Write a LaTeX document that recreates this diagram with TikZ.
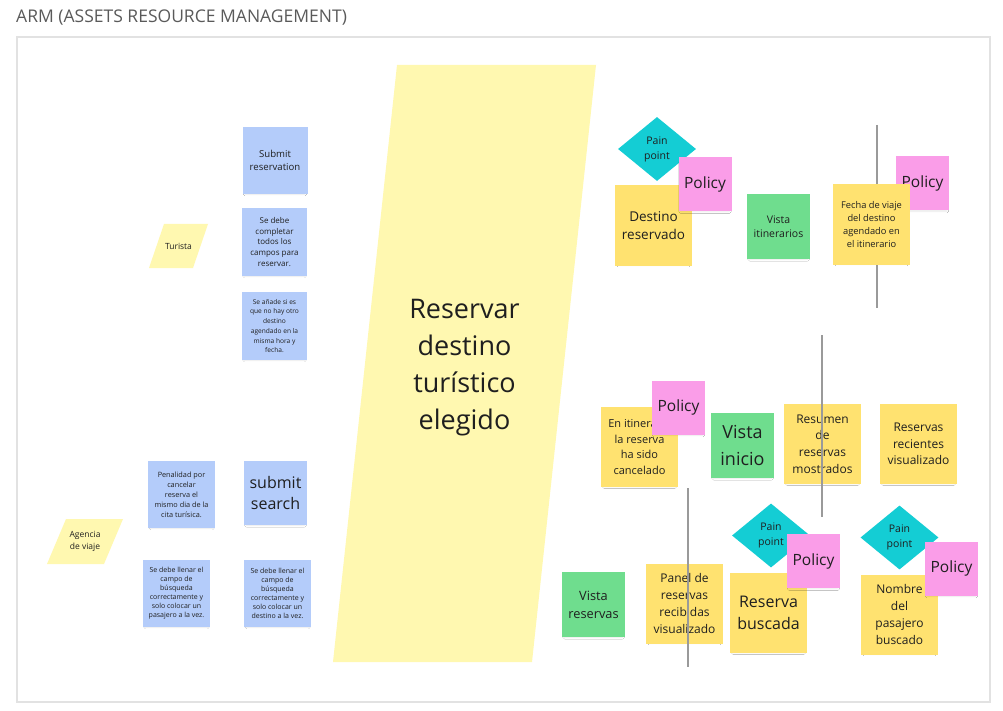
\documentclass[tikz,border=0pt]{standalone}
\usepackage{fontspec}
\setmainfont{Open Sans}
\usetikzlibrary{shapes.geometric,shadows.blur}
\definecolor{stickyblue}{HTML}{B4CCFA}
\definecolor{stickyyellow}{HTML}{FFE270}
\definecolor{paleyellow}{HTML}{FFF8B0}
\definecolor{stickygreen}{HTML}{6FDD8E}
\definecolor{stickypink}{HTML}{FA9DE8}
\definecolor{paincyan}{HTML}{14CDD4}
\definecolor{inkdark}{HTML}{1F1F1F}
\definecolor{framegray}{HTML}{E2E2E2}
\definecolor{titlegray}{HTML}{5A5A5A}
\definecolor{lanegray}{HTML}{9A9A9A}
\newcommand{\fsz}[2]{\fontsize{#1}{#2}\selectfont}
\tikzset{
  sticky/.style={rectangle, inner sep=0pt, align=center, text=inkdark,
    blur shadow={shadow xshift=0pt, shadow yshift=-3pt, shadow scale=0.92, shadow blur radius=2pt, shadow opacity=9}},
  bluenote/.style={sticky, fill=stickyblue, minimum width=65, minimum height=67},
  yellownote/.style={sticky, fill=stickyyellow, minimum width=77, minimum height=80},
  greennote/.style={sticky, fill=stickygreen, minimum width=63, minimum height=65},
  policynote/.style={sticky, fill=stickypink, minimum width=53, minimum height=54, font=\fsz{15.5}{19}},
  painpt/.style={diamond, fill=paincyan, inner sep=0pt, minimum width=78, minimum height=64,
    align=center, text=inkdark, font=\fsz{10.5}{15}},
  slabtext/.style={align=center, inner sep=0pt, text=inkdark},
  lane/.style={lanegray, line width=1.1}
}
\newcommand{\slab}[8]{
  \fill[paleyellow] (#2+#6,#3)--++(#4,0)--(#2+#4,#3+#5)--(#2,#3+#5)--cycle;
  \node[slabtext, #7] (#1) at (#2+#4/2+#6/2,#3+#5/2) {#8};
}

\begin{document}
\begin{tikzpicture}[x=1pt, y=-1pt]
    \useasboundingbox (0,0) rectangle (1003,711);
    \fill[white] (0,0) rectangle (1003,711);
    \node[anchor=west, inner sep=0pt, text=titlegray, font=\fsz{17.5}{20}] (title) at (16,18) {ARM (ASSETS RESOURCE MANAGEMENT)};
    \draw[framegray, line width=1.3, fill=white] (17,37) rectangle (990,702);

    \slab{turista}{149}{224}{44}{44}{15}{font=\fsz{8.5}{11}}{Turista}
    \slab{agencia}{47}{519}{57}{45}{19}{font=\fsz{8.5}{11.7}}{Agencia\\de viaje}
    \slab{evento}{333}{65}{199}{597}{64}{font=\fsz{27}{37}, yshift=-4}{Reservar\\destino\\turístico\\elegido}

    \node[bluenote, font=\fsz{9.6}{13.3}] (subres) at (275,160.5) {Submit\\reservation};
    \node[bluenote, minimum height=68, font=\fsz{8}{10.7}] (completar) at (274.5,242) {Se debe\\completar\\todos los\\campos para\\reservar.};
    \node[bluenote, minimum height=68, font=\fsz{6.6}{9.7}] (agendado) at (274.5,326) {Se añade si es\\que no hay otro\\destino\\agendado en la\\misma hora y\\fecha.};
    \node[bluenote, minimum width=67, font=\fsz{7.3}{10}] (penalidad) at (181.5,494.5) {Penalidad por\\cancelar\\reserva el\\mismo dia de la\\cita turísica.};
    \node[bluenote, minimum width=63, minimum height=64, font=\fsz{16}{21.7}] (subsearch) at (275.5,493) {submit\\search};
    \node[bluenote, minimum width=67, font=\fsz{7}{9}] (pasajero) at (176.5,593.5) {Se debe llenar el\\campo de\\búsqueda\\correctamente y\\solo colocar un\\pasajero a la vez.};
    \node[bluenote, minimum width=67, font=\fsz{7}{9}] (undestino) at (277.5,593.5) {Se debe llenar el\\campo de\\búsqueda\\correctamente y\\solo colocar un\\destino a la vez.};

    \draw[lane] (877,125) -- (877,308);
    \node[painpt] (pain1) at (657,149) {Pain\\point};
    \node[yellownote, font=\fsz{13.5}{18}] (destino) at (653.5,225.5) {Destino\\reservado};
    \node[policynote] (pol1) at (705,184) {Policy};
    \node[greennote, font=\fsz{10.5}{14}] (itinerarios) at (778.5,226.5) {Vista\\itinerarios};
    \node[policynote] (pol2) at (922.5,183.5) {Policy};
    \node[yellownote, font=\fsz{9.3}{13.3}] (fecha) at (871.5,224.5) {Fecha de viaje\\del destino\\agendado en\\el itinerario};

    \node[yellownote, font=\fsz{11}{15.7}] (cancelado) at (639.5,447) {En itinerario\\la reserva\\ha sido\\cancelado};
    \node[policynote] (pol3) at (678.5,407.5) {Policy};
    \node[greennote, font=\fsz{18}{26.7}] (inicio) at (742.5,445.5) {Vista\\inicio};
    \node[yellownote, font=\fsz{12}{16.7}] (resumen) at (822.5,444) {Resumen\\de\\reservas\\mostrados};
    \node[yellownote, font=\fsz{12}{16.7}] (recientes) at (918.5,444) {Reservas\\recientes\\visualizado};
    \draw[lane] (822,335) -- (822,517);

    \node[greennote, font=\fsz{12.8}{18}] (vreservas) at (593.5,604.5) {Vista\\reservas};
    \node[yellownote, font=\fsz{12}{16.7}] (panel) at (684.5,603.5) {Panel de\\reservas\\recibidas\\visualizado};
    \draw[lane] (688,488) -- (688,667);
    \node[painpt] (pain2) at (771,535.5) {Pain\\point};
    \node[yellownote, font=\fsz{16}{21.7}] (buscada) at (768.5,613) {Reserva\\buscada};
    \node[policynote] (pol4) at (813.5,561) {Policy};
    \node[painpt] (pain3) at (899.5,537.5) {Pain\\point};
    \node[yellownote, font=\fsz{12}{16.7}] (nombre) at (899.5,614.5) {Nombre\\del\\pasajero\\buscado};
    \node[policynote] (pol5) at (951.5,568.5) {Policy};
\end{tikzpicture}
\end{document}
